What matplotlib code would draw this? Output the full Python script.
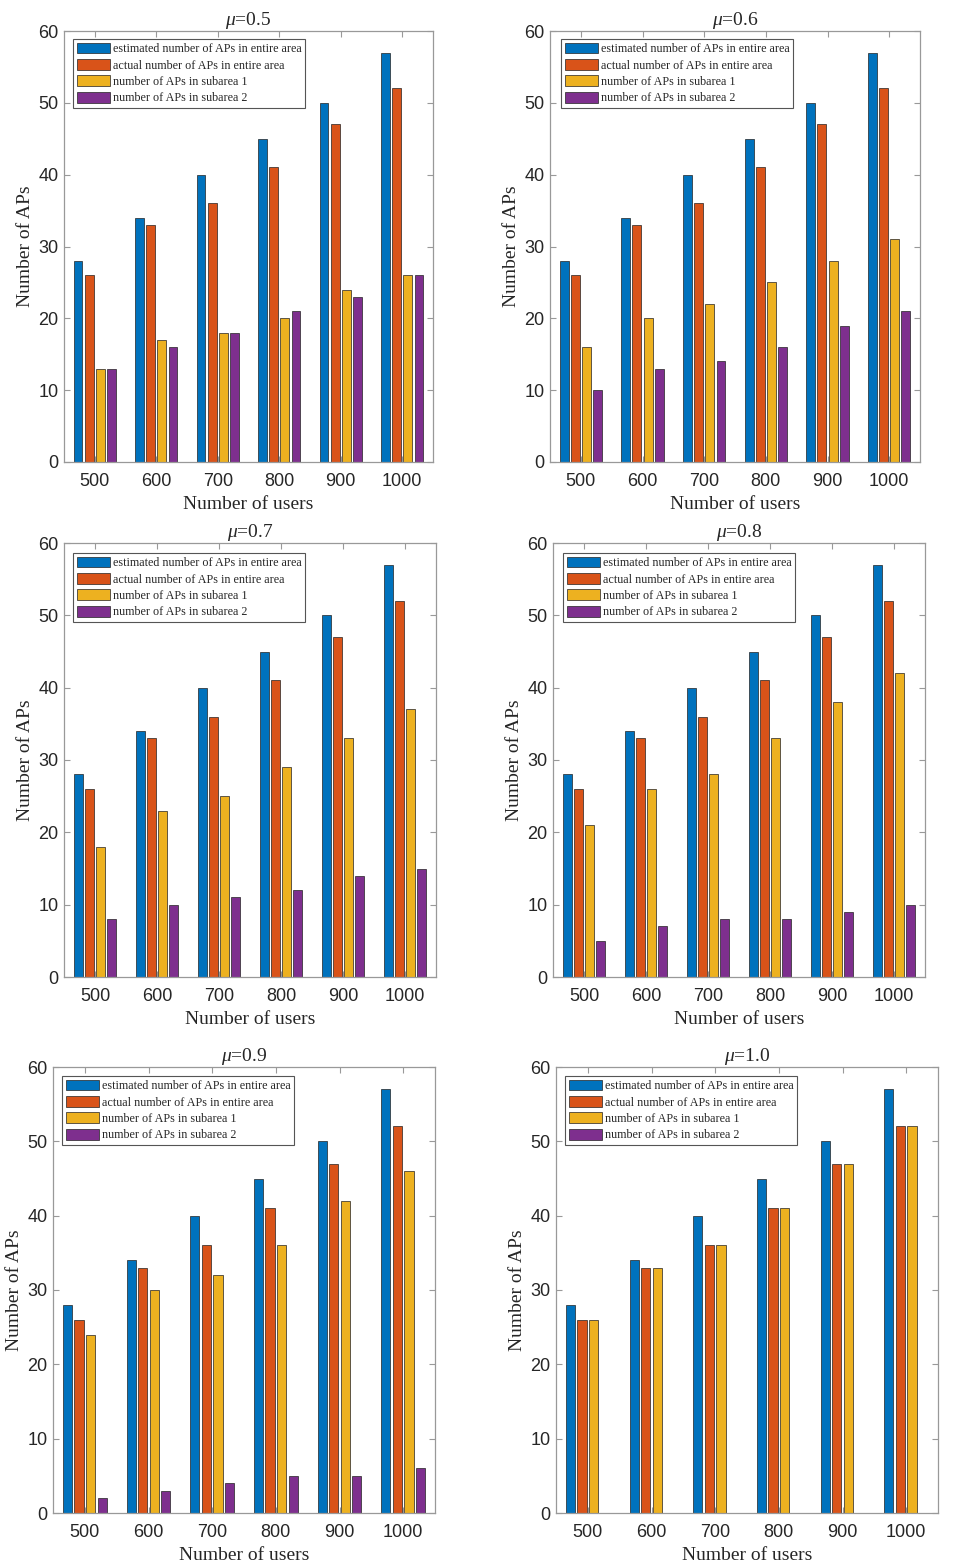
import matplotlib
matplotlib.use("Agg")
import matplotlib.pyplot as plt
import numpy as np

plt.rcParams['mathtext.fontset'] = 'custom'
plt.rcParams['mathtext.rm'] = 'Liberation Serif'
plt.rcParams['mathtext.it'] = 'Liberation Serif:italic'

users = ['500', '600', '700', '800', '900', '1000']
mus = ['0.5', '0.6', '0.7', '0.8', '0.9', '1.0']
estimated = [28, 34, 40, 45, 50, 57]
actual = [26, 33, 36, 41, 47, 52]
sub1 = {
    '0.5': [13, 17, 18, 20, 24, 26],
    '0.6': [16, 20, 22, 25, 28, 31],
    '0.7': [18, 23, 25, 29, 33, 37],
    '0.8': [21, 26, 28, 33, 38, 42],
    '0.9': [24, 30, 32, 36, 42, 46],
    '1.0': [26, 33, 36, 41, 47, 52],
}
sub2 = {
    '0.5': [13, 16, 18, 21, 23, 26],
    '0.6': [10, 13, 14, 16, 19, 21],
    '0.7': [8, 10, 11, 12, 14, 15],
    '0.8': [5, 7, 8, 8, 9, 10],
    '0.9': [2, 3, 4, 5, 5, 6],
    '1.0': [0, 0, 0, 0, 0, 0],
}
labels = ['estimated number of APs in entire area',
          'actual number of APs in entire area',
          'number of APs in subarea 1',
          'number of APs in subarea 2']
colors = ['#0072BD', '#D95319', '#EDB120', '#7E2F8E']

W, H = 958, 1568
fig = plt.figure(figsize=(W / 100, H / 100), dpi=100)

# axes boxes in pixels: x0, x1, y0(top), y1(bottom)
boxes = [(64, 433, 31, 462), (550, 920, 31, 462),
         (64, 436, 543, 977), (553, 925, 543, 977),
         (53, 435, 1067, 1513), (556, 938, 1067, 1513)]
# legend upper-left corners in pixels
leg_pos = [(73, 39), (561, 39), (73, 553), (563, 553), (62, 1076), (565, 1076)]

spine_c = '#999999'
text_c = '#262626'
gw = 4 / 5.5
slot = gw / 4
bw = slot * 0.8

for k, mu in enumerate(mus):
    x0, x1, y0, y1 = boxes[k]
    ax = fig.add_axes([x0 / W, 1 - y1 / H, (x1 - x0) / W, (y1 - y0) / H])
    x = np.arange(1, len(users) + 1)
    series = [estimated, actual, sub1[mu], sub2[mu]]
    for i, (vals, c, lab) in enumerate(zip(series, colors, labels)):
        ax.bar(x + (i - 1.5) * slot, vals, width=bw, color=c,
               edgecolor='#222222', linewidth=0.5, label=lab)
    ax.set_xlim(0.5, 6.5)
    ax.set_ylim(0, 60)
    ax.set_yticks(range(0, 61, 10))
    ax.set_xticks(x)
    ax.set_xticklabels(users)
    for s in ax.spines.values():
        s.set_color(spine_c)
        s.set_linewidth(0.9)
    ax.tick_params(direction='in', length=4, width=0.8, color=spine_c,
                   top=True, right=True, labelsize=13, labelcolor=text_c)
    ax.tick_params(axis='x', pad=8)
    ax.tick_params(axis='y', pad=4)
    for t in ax.get_xticklabels() + ax.get_yticklabels():
        t.set_fontfamily('Liberation Sans')
    ax.set_xlabel('Number of users', fontfamily='Liberation Serif',
                  fontsize=14, color=text_c, labelpad=4)
    ax.set_ylabel('Number of APs', fontfamily='Liberation Serif',
                  fontsize=14, color=text_c, labelpad=3)
    ax.set_title(r'$\mu$=' + mu, fontfamily='Liberation Serif',
                 fontsize=14, color=text_c, pad=4)
    lx, ly = leg_pos[k]
    ax_w, ax_h = x1 - x0, y1 - y0
    leg = ax.legend(loc='upper left',
                    bbox_to_anchor=((lx - x0) / ax_w, 1 - (ly - y0) / ax_h),
                    borderaxespad=0, fancybox=False, framealpha=1,
                    prop={'family': 'Liberation Serif', 'size': 8.7},
                    handlelength=2.8, handleheight=1.0, handletextpad=0.2,
                    labelspacing=0.32, borderpad=0.3)
    leg.get_frame().set_edgecolor('#555555')
    leg.get_frame().set_linewidth(0.8)
    for t in leg.get_texts():
        t.set_color(text_c)

fig.savefig('out.png', dpi=100)
